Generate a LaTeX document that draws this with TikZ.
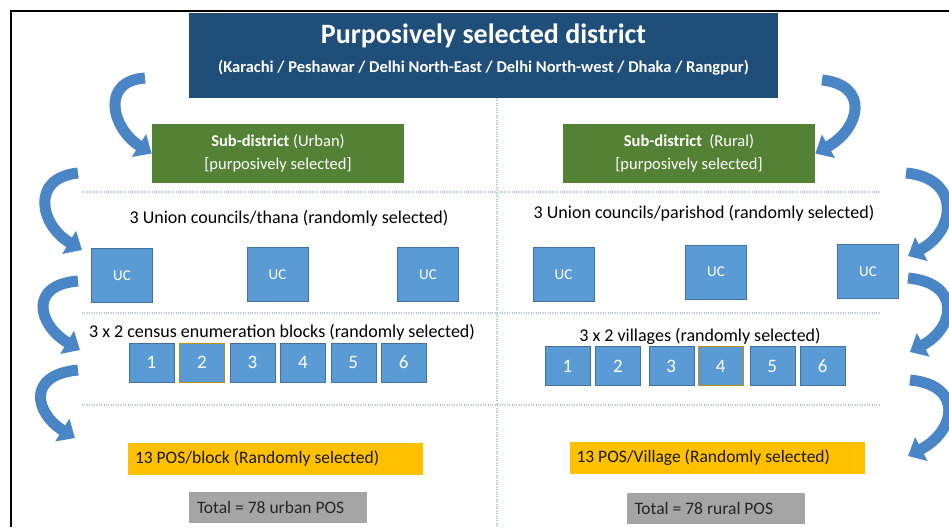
\documentclass[tikz,border=0pt]{standalone}
\usepackage{fontspec}
\setmainfont{Carlito}
\usepackage{xcolor}
\usetikzlibrary{arrows.meta,positioning}
\definecolor{districtblue}{HTML}{1F4E79}
\definecolor{subgreen}{HTML}{548235}
\definecolor{ucblue}{HTML}{5B9BD5}
\definecolor{ucedge}{HTML}{41719C}
\definecolor{pickgold}{HTML}{BF9000}
\definecolor{posyellow}{HTML}{FFC000}
\definecolor{totalgray}{HTML}{A5A5A5}
\definecolor{sepblue}{HTML}{A9C4E4}
\definecolor{bandblue}{HTML}{4A86C5}

\begin{document}
\begin{tikzpicture}[x=1pt, y=-1pt, semithick, font=\fontsize{18}{21}\selectfont]
\tikzstyle{titlebox}=[fill=districtblue, minimum width=589pt, minimum height=85pt, inner sep=0pt]
\tikzstyle{subbox}=[fill=subgreen, text=white, minimum width=252pt, minimum height=59pt, align=center, font=\fontsize{16.5}{23}\selectfont]
\tikzstyle{ucbox}=[fill=ucblue, draw=ucedge, thin, text=white, minimum width=61pt, minimum height=54pt, font=\fontsize{15}{17}\selectfont]
\tikzstyle{blockbox}=[fill=ucblue, draw=ucedge, thin, text=white, minimum width=45pt, minimum height=39pt, inner sep=0pt, font=\fontsize{19}{22}\selectfont]
\tikzstyle{picked}=[draw=pickgold, semithick]
\tikzstyle{posbox}=[fill=posyellow, text=black!90, text width=281pt, minimum height=32pt, inner xsep=7pt, align=flush left, font=\fontsize{17.5}{20}\selectfont]
\tikzstyle{totalbox}=[fill=totalgray, text=black!85, text width=162pt, minimum height=31pt, inner xsep=8pt, align=flush left, font=\fontsize{17.5}{20}\selectfont]
\tikzstyle{sepline}=[sepblue, line width=1.2pt, dash pattern=on 1pt off 1.4pt]
\tikzstyle{bandarrow}=[bandblue, line width=11pt, -{Triangle[length=15pt,width=26pt]}]
\useasboundingbox (0,0) rectangle (949,527);
% frame and dotted guides
\draw[line width=2pt] (11,527) -- (11,11) -- (949,11);
\draw[sepline] (497,98) -- (497,527);
\draw[sepline] (82,192) -- (880,192);
\draw[sepline] (82,313) -- (880,313);
\draw[sepline] (82,405) -- (880,405);
% district
\node[titlebox] (district) at (483.5,55.5) {};
\node[text=white, font=\bfseries\fontsize{28}{32}\selectfont] (districttitle) at (483.5,36) {Purposively selected district};
\node[text=white, font=\bfseries\fontsize{16.5}{19}\selectfont] (districtlist) at (483.5,68) {(Karachi / Peshawar / Delhi North-East / Delhi North-west / Dhaka / Rangpur)};
% sub-districts
\node[subbox] (subU) at (278,153.5) {\textbf{Sub-district} (Urban)\\{}[purposively selected]};
\node[subbox] (subR) at (689,153.5) {\textbf{Sub-district}~ (Rural)\\{}[purposively selected]};
% union councils
\node (unionU) at (289,218) {3 Union councils/thana (randomly selected)};
\node (unionR) at (704,213) {3 Union councils/parishod (randomly selected)};
\node[ucbox] (ucU1) at (122,275.5) {UC};
\node[ucbox] (ucU2) at (277.5,274.5) {UC};
\node[ucbox] (ucU3) at (428,274.5) {UC};
\node[ucbox] (ucR1) at (563.5,274.5) {UC};
\node[ucbox] (ucR2) at (716,272) {UC};
\node[ucbox] (ucR3) at (868,271.5) {UC};
% blocks and villages
\node (blocksU) at (282,332) {3 x 2 census enumeration blocks (randomly selected)};
\node (villagesR) at (700,336) {3 x 2 villages (randomly selected)};
\node[blockbox] (bU1) at (151.5,362.5) {1};
\node[blockbox, picked, right=5pt of bU1] (bU2) {2};
\node[blockbox, right=5pt of bU2] (bU3) {3};
\node[blockbox, right=5pt of bU3] (bU4) {4};
\node[blockbox, right=5pt of bU4] (bU5) {5};
\node[blockbox, right=5pt of bU5] (bU6) {6};
\node[blockbox] (vR1) at (567.5,366) {1};
\node[blockbox, right=5pt of vR1] (vR2) {2};
\node[blockbox, right=8pt of vR2] (vR3) {3};
\node[blockbox, picked, right=4pt of vR3] (vR4) {4};
\node[blockbox, right=6pt of vR4] (vR5) {5};
\node[blockbox, right=5pt of vR5] (vR6) {6};
% points of sale
\node[posbox] (posU) at (275.5,459) {13 POS/block (Randomly selected)};
\node[posbox] (posR) at (717,458) {13 POS/Village (Randomly selected)};
\node[totalbox] (totU) at (278,507.5) {Total = 78 urban POS};
\node[totalbox] (totR) at (715.5,508) {Total = 78 rural POS};
% curved arrows
\coordinate (aL1) at (145,78);
\coordinate (aL2) at (78,173);  \coordinate (eL2) at (82,250);
\coordinate (aL3) at (78,281);  \coordinate (eL3) at (80,350);
\coordinate (aL4) at (78,370);  \coordinate (eL4) at (75,438);
\coordinate (aR1) at (822,80);
\coordinate (aR2) at (906,173); \coordinate (eR2) at (908,256);
\coordinate (aR3) at (908,278); \coordinate (eR3) at (910,352);
\coordinate (aR4) at (910,380); \coordinate (eR4) at (908,456);
\draw[bandarrow] (aL1) .. controls +(-45,3) and +(-40,-25) .. (subU.west);
\draw[bandarrow] (aL2) .. controls +(-48,5) and +(-42,-25) .. (eL2);
\draw[bandarrow] (aL3) .. controls +(-50,4) and +(-42,-25) .. (eL3);
\draw[bandarrow] (aL4) .. controls +(-52,5) and +(-40,-25) .. (eL4);
\draw[bandarrow] (aR1) .. controls +(48,5) and +(45,-25) .. (subR.east);
\draw[bandarrow] (aR2) .. controls +(55,5) and +(48,-25) .. (eR2);
\draw[bandarrow] (aR3) .. controls +(53,5) and +(46,-25) .. (eR3);
\draw[bandarrow] (aR4) .. controls +(54,5) and +(48,-25) .. (eR4);
\end{tikzpicture}
\end{document}
